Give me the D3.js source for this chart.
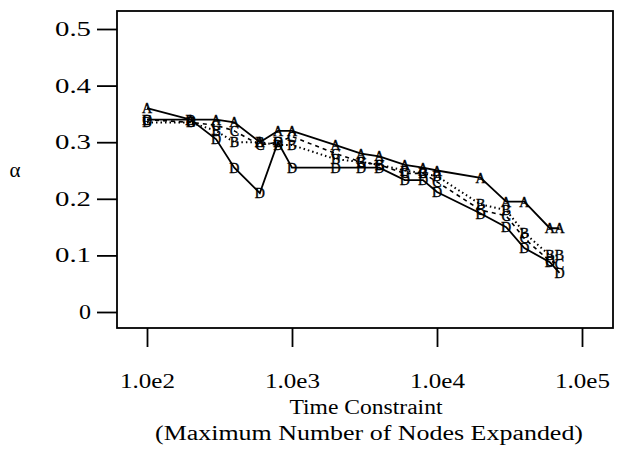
<!DOCTYPE html>
<html>
<head>
<meta charset="utf-8">
<script src="https://cdn.jsdelivr.net/npm/d3@7"></script>
<style>
  body { margin: 0; background: #fff; }
  text { font-family: "Liberation Serif", "DejaVu Serif", serif; fill: #000; }
</style>
</head>
<body>
<script>
// time constraint values (nodes expanded)
var nodes = [100, 200, 300, 400, 600, 800, 1000, 2000, 3000, 4000, 6000, 8000, 10000, 20000, 30000, 40000, 60000, 70000];

// alpha for each curve
var seriesA = [0.36, 0.34, 0.34, 0.335, 0.30, 0.32, 0.32, 0.295, 0.28, 0.275, 0.26, 0.255, 0.25, 0.237, 0.195, 0.195, 0.148, 0.148];
var seriesB = [0.335, 0.335, 0.32, 0.30, 0.30, 0.295, 0.295, 0.27, 0.265, 0.26, 0.25, 0.245, 0.24, 0.19, 0.18, 0.14, 0.10, 0.10];
var seriesC = [0.34, 0.335, 0.33, 0.32, 0.295, 0.30, 0.31, 0.28, 0.265, 0.26, 0.245, 0.245, 0.23, 0.18, 0.17, 0.13, 0.09, 0.085];
var seriesD = [0.34, 0.34, 0.305, 0.255, 0.21, 0.30, 0.255, 0.255, 0.255, 0.255, 0.233, 0.233, 0.212, 0.174, 0.15, 0.113, 0.088, 0.069];

var xTicks = [100, 1000, 10000, 100000];
var xTickLabels = ["1.0e2", "1.0e3", "1.0e4", "1.0e5"];
var yTicks = [0, 0.1, 0.2, 0.3, 0.4, 0.5];
var yTickLabels = ["0", "0.1", "0.2", "0.3", "0.4", "0.5"];

var w = 622, h = 449;

var svg = d3.select("body").append("svg")
    .attr("width", w)
    .attr("height", h);

var x = d3.scaleLog().domain([100, 100000]).range([147, 582]);
var y = d3.scaleLinear().domain([0, 0.5]).range([312, 29]);

// frame
svg.append("rect")
    .attr("x", 117).attr("y", 11)
    .attr("width", 496).attr("height", 317)
    .attr("fill", "none").attr("stroke", "#000").attr("stroke-width", 1.8);

// y axis ticks, drawn outside the frame
var yAxis = d3.axisLeft(y).tickValues(yTicks)
    .tickFormat(function(d, i){ return yTickLabels[i]; })
    .tickSize(20).tickPadding(6);
var gy = svg.append("g").attr("transform", "translate(117,0)").call(yAxis);
gy.select(".domain").remove();
gy.selectAll("line").attr("stroke-width", 1.8);
gy.selectAll("text")
    .style("font-size", "20px")
    .style("font-family", "Liberation Serif, serif")
    .attr("textLength", function(d, i){ return yTickLabels[i].length == 1 ? 12 : 36; })
    .attr("lengthAdjust", "spacingAndGlyphs");

// x axis
var xAxis = d3.axisBottom(x).tickValues(xTicks)
    .tickFormat(function(d, i){ return xTickLabels[i]; })
    .tickSize(19).tickPadding(27);
var gx = svg.append("g").attr("transform", "translate(0,328)").call(xAxis);
gx.select(".domain").remove();
gx.selectAll("line").attr("stroke-width", 1.8);
gx.selectAll("text")
    .style("font-size", "20px")
    .style("font-family", "Liberation Serif, serif")
    .attr("textLength", 55)
    .attr("lengthAdjust", "spacingAndGlyphs");

// axis titles
svg.append("text").attr("x", 15).attr("y", 177)
    .attr("text-anchor", "middle").style("font-size", "21px").text("\u03b1");
svg.append("text").attr("x", 366).attr("y", 414)
    .attr("text-anchor", "middle").style("font-size", "20px")
    .attr("textLength", 153).attr("lengthAdjust", "spacingAndGlyphs")
    .text("Time Constraint");
svg.append("text").attr("x", 369).attr("y", 440)
    .attr("text-anchor", "middle").style("font-size", "20px")
    .attr("textLength", 428).attr("lengthAdjust", "spacingAndGlyphs")
    .text("(Maximum Number of Nodes Expanded)");

var series = [
    { name: "A", values: seriesA, dash: null, width: 1.8 },
    { name: "B", values: seriesB, dash: "1.5,3", width: 2 },
    { name: "C", values: seriesC, dash: "4,4", width: 1.6 },
    { name: "D", values: seriesD, dash: null, width: 1.8 }
];

var line = d3.line()
    .x(function(d){ return x(d[0]); })
    .y(function(d){ return y(d[1]); });

series.forEach(function(s){
    var pts = nodes.map(function(n, i){ return [n, s.values[i]]; });
    svg.append("path")
        .datum(pts)
        .attr("d", line)
        .attr("fill", "none")
        .attr("stroke", "#000")
        .attr("stroke-width", s.width)
        .attr("stroke-dasharray", s.dash);
    svg.append("g").selectAll("text")
        .data(pts)
        .enter().append("text")
        .attr("x", function(d){ return x(d[0]); })
        .attr("y", function(d){ return y(d[1]) + 5; })
        .attr("text-anchor", "middle")
        .style("font-size", "14px")
        .style("stroke", "#000")
        .style("stroke-width", 0.4)
        .text(s.name);
});
</script>
</body>
</html>
